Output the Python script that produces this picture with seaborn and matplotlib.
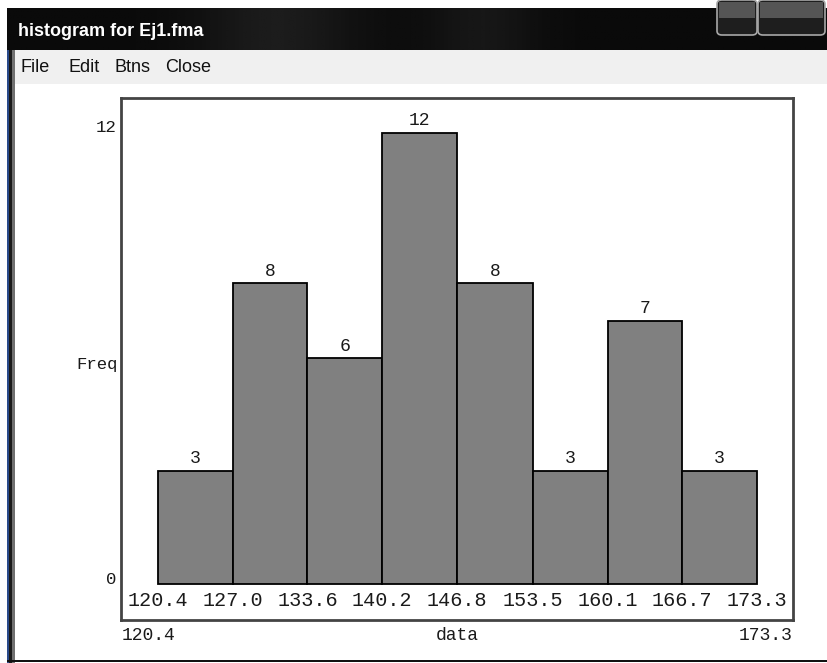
import numpy as np
import pandas as pd
import matplotlib
matplotlib.use("Agg")
import matplotlib.pyplot as plt
from matplotlib.patches import Rectangle, FancyBboxPatch
import seaborn as sns

# ---- data ----
bin_edges = [120.4, 127.0, 133.6, 140.2, 146.8, 153.5, 160.1, 166.7, 173.3]
edge_labels = ["120.4", "127.0", "133.6", "140.2", "146.8", "153.5", "160.1", "166.7", "173.3"]
counts = [3, 8, 6, 12, 8, 3, 7, 3]
window_title = "histogram for Ej1.fma"
menu_items = ["File", "Edit", "Btns", "Close"]
x_label = "data"
y_label = "Freq"

centers = [(bin_edges[i] + bin_edges[i + 1]) / 2 for i in range(len(counts))]
df = pd.DataFrame({"value": centers, "count": counts})

sns.set_style("white")
plt.rcParams["font.family"] = ["Liberation Mono", "DejaVu Sans Mono"]

W, H = 827, 663
fig = plt.figure(figsize=(W / 100, H / 100), dpi=100)
fig.patch.set_facecolor("white")

def fx(px):
    return px / W

def fy(py):
    return 1 - py / H

# ---- window chrome ----
tb = fig.add_axes([fx(7), fy(50), fx(820), (50 - 8) / H])
grad = np.linspace(0, 1, 200)
img = np.zeros((20, 200))
for i, g in enumerate(grad):
    img[:, i] = 0.04 + 0.07 * np.exp(-((g - 0.33) / 0.10) ** 2) + 0.05 * np.exp(-((g - 0.58) / 0.07) ** 2)
tb.imshow(img, cmap="gray", vmin=0, vmax=1, aspect="auto", extent=[0, 1, 0, 1])
tb.set_axis_off()
fig.text(fx(18), fy(32), window_title, color="white", fontsize=13, fontweight="bold",
         family=["Liberation Sans Narrow", "Liberation Sans", "DejaVu Sans"], va="center", ha="left")

for x0, x1 in [(717, 757), (758, 825)]:
    fig.patches.append(FancyBboxPatch((fx(x0), fy(35)), fx(x1 - x0), 35 / H,
                                      boxstyle="round,pad=0,rounding_size=0.006",
                                      transform=fig.transFigure, facecolor="#1e1e1e",
                                      edgecolor="#a8a8a8", linewidth=1.2, zorder=5))
    fig.patches.append(Rectangle((fx(x0 + 2), fy(18)), fx(x1 - x0 - 4), 16 / H,
                                 transform=fig.transFigure, facecolor="#555555",
                                 edgecolor="none", zorder=6))

# menu bar
fig.patches.append(Rectangle((fx(15), fy(84)), fx(812), (84 - 50) / H, transform=fig.transFigure,
                             facecolor="#f0f0f0", edgecolor="none", zorder=1))
mx = [20, 68, 115, 165]
for x, t in zip(mx, menu_items):
    fig.text(fx(x), fy(67), t, fontsize=13, family=["Liberation Sans", "DejaVu Sans"],
             va="center", ha="left", color="#111111")

# window borders
fig.patches.append(Rectangle((fx(7), fy(663)), fx(8), (663 - 50) / H, transform=fig.transFigure,
                             facecolor="#1a1a1a", edgecolor="none", zorder=2))
fig.patches.append(Rectangle((fx(7), fy(663)), fx(2), (663 - 50) / H, transform=fig.transFigure,
                             facecolor="#2a4a8a", edgecolor="none", zorder=3))
fig.patches.append(Rectangle((fx(12), fy(663)), fx(3), (663 - 50) / H, transform=fig.transFigure,
                             facecolor="#707070", edgecolor="none", zorder=3))
fig.patches.append(Rectangle((fx(7), fy(662)), fx(820), 2.5 / H, transform=fig.transFigure,
                             facecolor="#111111", edgecolor="none", zorder=3))

# ---- plot area ----
ax = fig.add_axes([fx(121), fy(620), fx(793 - 121), (620 - 98) / H])
sns.histplot(data=df, x="value", weights="count", bins=bin_edges, ax=ax,
             color="#808080", edgecolor="black", linewidth=1.3, alpha=1.0)

px_per_unit_x = (757 - 158) / (bin_edges[-1] - bin_edges[0])
ax.set_xlim(bin_edges[0] - (158 - 121) / px_per_unit_x, bin_edges[-1] + (793 - 757) / px_per_unit_x)
px_per_unit_y = (584 - 133) / 12
ax.set_ylim(-(620 - 584) / px_per_unit_y, (584 - 98) / px_per_unit_y)

for s in ax.spines.values():
    s.set_color("#444444")
    s.set_linewidth(2)
ax.set_xticks([])
ax.set_yticks([])
ax.set_xlabel("")
ax.set_ylabel("")

txt = "#1a1a1a"
for c, n in zip(centers, counts):
    ax.text(c, n + 0.1, str(n), ha="center", va="bottom", fontsize=13, color=txt)

for e, lab in zip(bin_edges, edge_labels):
    ax.text(e, -(600 - 584) / px_per_unit_y, lab, ha="center", va="center", fontsize=14.5, color=txt)

fig.text(fx(116), fy(128), "12", ha="right", va="center", fontsize=12.5, color=txt)
fig.text(fx(116), fy(579), "0", ha="right", va="center", fontsize=12.5, color=txt)
fig.text(fx(118), fy(365), y_label, ha="right", va="center", fontsize=12.5, color=txt)

fig.text(fx(122), fy(636), edge_labels[0], ha="left", va="center", fontsize=13, color=txt)
fig.text(fx(792), fy(636), edge_labels[-1], ha="right", va="center", fontsize=13, color=txt)
fig.text(fx(457), fy(636), x_label, ha="center", va="center", fontsize=13, color=txt)

fig.savefig("out.png", dpi=100)
